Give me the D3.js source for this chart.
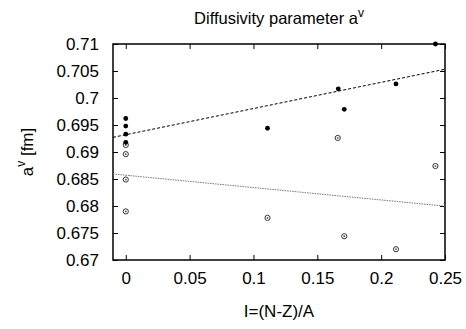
<!DOCTYPE html>
<html>
<head>
<meta charset="utf-8">
<script src="https://cdn.jsdelivr.net/npm/d3@7"></script>
<style>
  body { margin: 0; background: #fff; }
  svg { display: block; font-family: "Liberation Sans", Arial, sans-serif; }
</style>
</head>
<body>
<div id="chart"></div>
<script>
// filled points (upper set)
var filledX = [0, 0, 0, 0, 0.111, 0.1664, 0.1711, 0.2116, 0.2425];
var filledY = [0.6962, 0.6948, 0.6933, 0.6918, 0.6944, 0.7017, 0.6979, 0.7026, 0.7100];
// open points (lower set)
var openX = [0, 0, 0, 0, 0.111, 0.166, 0.1711, 0.2116, 0.2425];
var openY = [0.6913, 0.6896, 0.6849, 0.6790, 0.6778, 0.6926, 0.6744, 0.6720, 0.6874];
// linear fits: [intercept, slope]
var fitFilled = [0.6932, 0.0485];
var fitOpen = [0.6857, -0.0229];

var xTicks = [0, 0.05, 0.1, 0.15, 0.2, 0.25];
var yTicks = [0.67, 0.675, 0.68, 0.685, 0.69, 0.695, 0.7, 0.705, 0.71];
var xTickLabels = ['0', '0.05', '0.1', '0.15', '0.2', '0.25'];
var yTickLabels = ['0.67', '0.675', '0.68', '0.685', '0.69', '0.695', '0.7', '0.705', '0.71'];

var width = 466, height = 329;
var margin = {left: 113, right: 21, top: 44, bottom: 69};

var svg = d3.select('#chart').append('svg')
  .attr('width', width)
  .attr('height', height);

var x = d3.scaleLinear().domain([-0.01, 0.25]).range([margin.left, width - margin.right]);
var y = d3.scaleLinear().domain([0.67, 0.71]).range([height - margin.bottom, margin.top]);

// title
svg.append('text')
  .attr('x', 279).attr('y', 24)
  .attr('text-anchor', 'middle')
  .attr('font-size', 16.5)
  .html('Diffusivity parameter a<tspan dy="-7" font-size="12">v</tspan>');

// axes with inward ticks
var tickLen = 5;
svg.append('g')
  .attr('transform', 'translate(0,' + y(0.67) + ')')
  .call(d3.axisBottom(x).tickValues(xTicks).tickSizeInner(-tickLen).tickSizeOuter(0)
    .tickPadding(12).tickFormat(function(d, i){ return xTickLabels[i]; }))
  .call(function(g){ g.select('.domain').remove(); })
  .selectAll('text').attr('font-size', 17).attr('font-family', '"Liberation Sans", Arial, sans-serif').attr('fill', '#000');

svg.append('g')
  .attr('transform', 'translate(' + x(-0.01) + ',0)')
  .call(d3.axisLeft(y).tickValues(yTicks).tickSizeInner(-tickLen).tickSizeOuter(0)
    .tickPadding(14).tickFormat(function(d, i){ return yTickLabels[i]; }))
  .call(function(g){ g.select('.domain').remove(); })
  .selectAll('text').attr('font-size', 17).attr('font-family', '"Liberation Sans", Arial, sans-serif').attr('fill', '#000');

// mirrored ticks on top and right
svg.append('g')
  .attr('transform', 'translate(0,' + y(0.71) + ')')
  .call(d3.axisTop(x).tickValues(xTicks).tickSizeInner(-tickLen).tickSizeOuter(0).tickFormat(''))
  .call(function(g){ g.select('.domain').remove(); });

svg.append('g')
  .attr('transform', 'translate(' + x(0.25) + ',0)')
  .call(d3.axisRight(y).tickValues(yTicks).tickSizeInner(-tickLen).tickSizeOuter(0).tickFormat(''))
  .call(function(g){ g.select('.domain').remove(); });

// frame
svg.append('rect')
  .attr('x', x(-0.01)).attr('y', y(0.71))
  .attr('width', x(0.25) - x(-0.01))
  .attr('height', y(0.67) - y(0.71))
  .attr('fill', 'none')
  .attr('stroke', '#000')
  .attr('stroke-width', 1.5);

// axis titles
svg.append('text')
  .attr('x', 279).attr('y', 317)
  .attr('text-anchor', 'middle')
  .attr('font-size', 17)
  .text('I=(N-Z)/A');

svg.append('text')
  .attr('transform', 'translate(33,152) rotate(-90)')
  .attr('text-anchor', 'middle')
  .attr('font-size', 17)
  .html('a<tspan dy="-8" font-size="12">v</tspan><tspan dy="8"> [fm]</tspan>');

// fit lines
var xr = x.domain();
function fitLine(p) {
  return xr.map(function(v){ return [v, p[0] + p[1] * v]; });
}
var line = d3.line().x(function(d){ return x(d[0]); }).y(function(d){ return y(d[1]); });

svg.append('path')
  .datum(fitLine(fitFilled))
  .attr('d', line)
  .attr('fill', 'none')
  .attr('stroke', '#000')
  .attr('stroke-width', 1)
  .attr('stroke-dasharray', '3,2');

svg.append('path')
  .datum(fitLine(fitOpen))
  .attr('d', line)
  .attr('fill', 'none')
  .attr('stroke', '#777')
  .attr('stroke-width', 1)
  .attr('stroke-dasharray', '1.5,1');

// open points
var openData = openX.map(function(v, i){ return [v, openY[i]]; });
var og = svg.selectAll('.open').data(openData).enter().append('g').attr('class', 'open');
og.append('circle')
  .attr('cx', function(d){ return x(d[0]); })
  .attr('cy', function(d){ return y(d[1]); })
  .attr('r', 2.6)
  .attr('fill', '#fff')
  .attr('stroke', '#333')
  .attr('stroke-width', 1);
og.append('circle')
  .attr('cx', function(d){ return x(d[0]); })
  .attr('cy', function(d){ return y(d[1]); })
  .attr('r', 0.9)
  .attr('fill', '#555');

// filled points
var filledData = filledX.map(function(v, i){ return [v, filledY[i]]; });
svg.selectAll('.filled').data(filledData).enter().append('circle')
  .attr('class', 'filled')
  .attr('cx', function(d){ return x(d[0]); })
  .attr('cy', function(d){ return y(d[1]); })
  .attr('r', 2.4)
  .attr('fill', '#000');
</script>
</body>
</html>
